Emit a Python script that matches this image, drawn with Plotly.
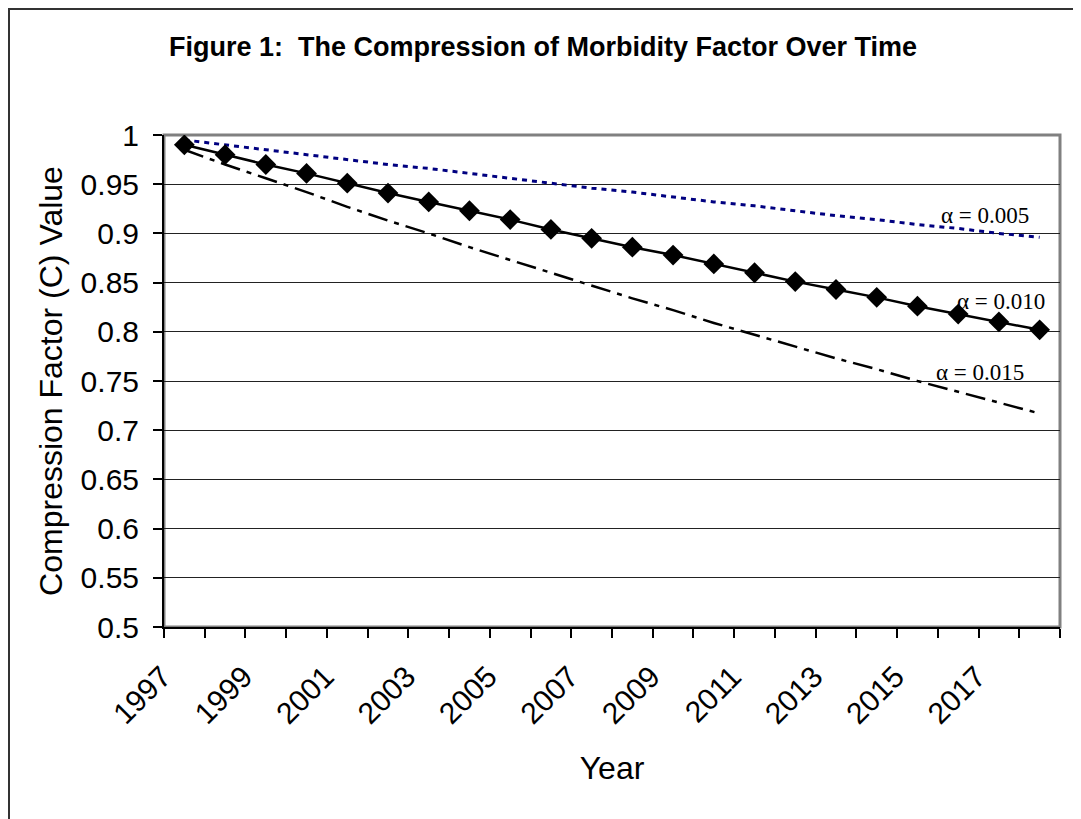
import plotly.graph_objects as go

years = list(range(1997, 2019))
c_005 = [0.995, 0.990, 0.985, 0.980, 0.975, 0.970, 0.966, 0.961, 0.956, 0.951, 0.946,
         0.942, 0.937, 0.932, 0.928, 0.923, 0.918, 0.914, 0.909, 0.905, 0.900, 0.896]
c_010 = [0.990, 0.980, 0.970, 0.961, 0.951, 0.941, 0.932, 0.923, 0.914, 0.904, 0.895,
         0.886, 0.878, 0.869, 0.860, 0.851, 0.843, 0.835, 0.826, 0.818, 0.810, 0.802]
c_015 = [0.985, 0.970, 0.956, 0.942, 0.927, 0.913, 0.900, 0.886, 0.873, 0.860, 0.847,
         0.834, 0.822, 0.809, 0.797, 0.785, 0.773, 0.762, 0.750, 0.739, 0.728, 0.717]
x_tick_years = [1997, 1999, 2001, 2003, 2005, 2007, 2009, 2011, 2013, 2015, 2017]
x_tick_text = [str(y) for y in x_tick_years]
y_tick_vals = [0.5, 0.55, 0.6, 0.65, 0.7, 0.75, 0.8, 0.85, 0.9, 0.95, 1.0]
y_tick_text = ["0.5", "0.55", "0.6", "0.65", "0.7", "0.75", "0.8", "0.85", "0.9", "0.95", "1"]
labels = ["α = 0.005", "α = 0.010", "α = 0.015"]
label_x = [2016.66, 2017.05, 2016.54]
label_y = [0.9187, 0.8303, 0.7591]

SANS = "Liberation Sans, Arial, sans-serif"
SERIF = "Liberation Serif, Times New Roman, serif"

fig = go.Figure()
fig.add_trace(go.Scatter(x=years, y=c_005, mode="lines",
                         line=dict(color="#000080", width=3, dash="5px,5px"),
                         showlegend=False, hoverinfo="skip"))
fig.add_trace(go.Scatter(x=years, y=c_015, mode="lines",
                         line=dict(color="#000000", width=2.5, dash="20px,7px,5px,7px"),
                         showlegend=False, hoverinfo="skip"))
fig.add_trace(go.Scatter(x=years, y=c_010, mode="lines+markers",
                         line=dict(color="#000000", width=2.5),
                         marker=dict(symbol="diamond", size=16, color="#000000"),
                         showlegend=False, hoverinfo="skip"))

for t, xv, yv in zip(labels, label_x, label_y):
    fig.add_annotation(x=xv, y=yv, text=t, showarrow=False,
                       font=dict(family=SERIF, size=23, color="#000"),
                       xanchor="center", yanchor="middle")

# plot area border (gray) between gridlines and traces
fig.add_shape(type="rect", xref="paper", yref="paper", x0=0, x1=1, y0=0, y1=1,
              line=dict(color="#808080", width=3), layer="between")
# outer chart frame (left and top edges visible)
fig.add_shape(type="rect", xref="paper", yref="paper",
              x0=-155 / 896, x1=1.05, y0=-0.45, y1=1 + 126 / 492,
              line=dict(color="#333333", width=2), layer="above")

fig.update_layout(
    width=1073, height=811,
    margin=dict(l=156, r=21, t=127, b=192),
    paper_bgcolor="white", plot_bgcolor="white",
    font=dict(family=SANS, color="#000"),
    title=dict(text="<b>Figure 1:  The Compression of Morbidity Factor Over Time</b>",
               x=(543 - 8) / 1073, xref="container", xanchor="center",
               y=1 - (47 - 8) / 811, yref="container", yanchor="middle",
               font=dict(family=SANS, size=27, color="#000")),
    xaxis=dict(range=[1996.5, 2018.5], tickmode="array", tickvals=x_tick_years,
               ticktext=x_tick_text, tickangle=-45, ticks="",
               tickfont=dict(family=SANS, size=30, color="#000"),
               ticklabelstandoff=18, ticklabelshift=-22,
               showgrid=False, zeroline=False, showline=True,
               linecolor="#000", linewidth=2,
               minor=dict(ticks="outside", tick0=1996.5, dtick=1, ticklen=9,
                          tickcolor="#000", tickwidth=1.5, showgrid=False),
               title=dict(text="Year", font=dict(family=SANS, size=32, color="#000"),
                          standoff=28)),
    yaxis=dict(range=[0.5, 1.0], tickmode="array", tickvals=y_tick_vals,
               ticktext=y_tick_text, ticks="outside", ticklen=9, tickcolor="#000",
               tickwidth=1.5,
               tickfont=dict(family=SANS, size=30, color="#000"),
               showgrid=True, gridcolor="#222", gridwidth=1, zeroline=False,
               showline=True, linecolor="#000", linewidth=2,
               ticklabelstandoff=8,
               title=dict(text="Compression Factor (C) Value",
                          font=dict(family=SANS, size=32, color="#000"), standoff=8)),
)

fig.write_html("out.html")
